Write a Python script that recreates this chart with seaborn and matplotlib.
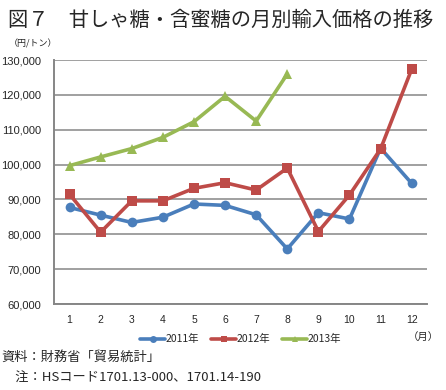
import pandas as pd
import numpy as np
import matplotlib.pyplot as plt
import seaborn as sns

sns.set_style('white')
plt.rcParams['font.family'] = ['Noto Sans CJK JP', 'DejaVu Sans']

# --- data ---
months = list(range(1, 13))
price_2011 = [87700, 85500, 83400, 84900, 88700, 88300, 85600, 75800, 86200, 84400, 104700, 94600]
price_2012 = [91500, 80600, 89600, 89600, 93200, 94800, 92700, 99000, 80800, 91300, 104500, 127400]
price_2013 = [99700, 102200, 104600, 107800, 112300, 119600, 112500, 126000]
series_names = ['2011年', '2012年', '2013年']
y_ticks = [60000, 70000, 80000, 90000, 100000, 110000, 120000, 130000]

colors = {'2011年': '#4A7EBB', '2012年': '#BE4B48', '2013年': '#98B954'}
markers = {'2011年': 'o', '2012年': 's', '2013年': '^'}

# build a long table for seaborn
rows = []
for name, vals in zip(series_names, [price_2011, price_2012, price_2013]):
    for m, v in zip(months, vals):
        rows.append({'month': m, 'price': v, 'year': name})
df = pd.DataFrame(rows)

fig = plt.figure(figsize=(4.46, 3.9), dpi=100)
ax = fig.add_axes([0.121, 0.2205, 0.837, 0.6255])

sns.lineplot(data=df, x='month', y='price', hue='year', style='year',
             palette=colors, markers=markers, dashes=False,
             linewidth=2.6, markersize=7, markeredgewidth=0,
             ax=ax, legend=True)

ax.set_xlim(0.5, 12.5)
ax.set_ylim(60000, 130000)
ax.set_yticks(y_ticks)
ax.set_yticklabels([f'{v:,}' for v in y_ticks], fontsize=8, family=['Liberation Sans'])
ax.set_xticks(months)
ax.set_xticklabels([str(m) for m in months], fontsize=7.5, family=['Liberation Sans'])
ax.set_xticks(np.arange(0.5, 13, 1), minor=True)
ax.tick_params(axis='x', which='major', length=0, pad=8)
ax.tick_params(axis='x', which='minor', length=4, color='#868686', direction='out')
ax.tick_params(axis='y', length=4, color='#868686', direction='out', pad=5)
ax.set_xlabel('')
ax.set_ylabel('')

ax.yaxis.grid(True, color='#868686', linewidth=1.1)
ax.set_axisbelow(True)
for side in ['top', 'right']:
    ax.spines[side].set_visible(False)
for side in ['left', 'bottom']:
    ax.spines[side].set_color('#868686')
    ax.spines[side].set_linewidth(1.4)

handles, labels = ax.get_legend_handles_labels()
for h in handles:
    h.set_markersize(5)
leg = ax.legend(handles, labels, loc='upper center', bbox_to_anchor=(0.5, -0.085),
                ncol=3, frameon=False, fontsize=7.5, handlelength=2.4,
                handletextpad=0.0, columnspacing=1.2)

# texts around the plot
fig.text(0.018, 0.947, '図７　甘しゃ糖・含蜜糖の月別輸入価格の推移', fontsize=14.6, va='center')
fig.text(0.02, 0.888, '（円/トン）', fontsize=6.5, va='center')
fig.text(0.985, 0.136, '（月）', fontsize=7.5, va='center', ha='right')
fig.text(0.004, 0.084, '資料：財務省「貿易統計」', fontsize=9.5, va='center')
fig.text(0.004, 0.030, '　注：HSコード1701.13-000、1701.14-190', fontsize=9.5, va='center')

plt.savefig('out.png', dpi=100)
